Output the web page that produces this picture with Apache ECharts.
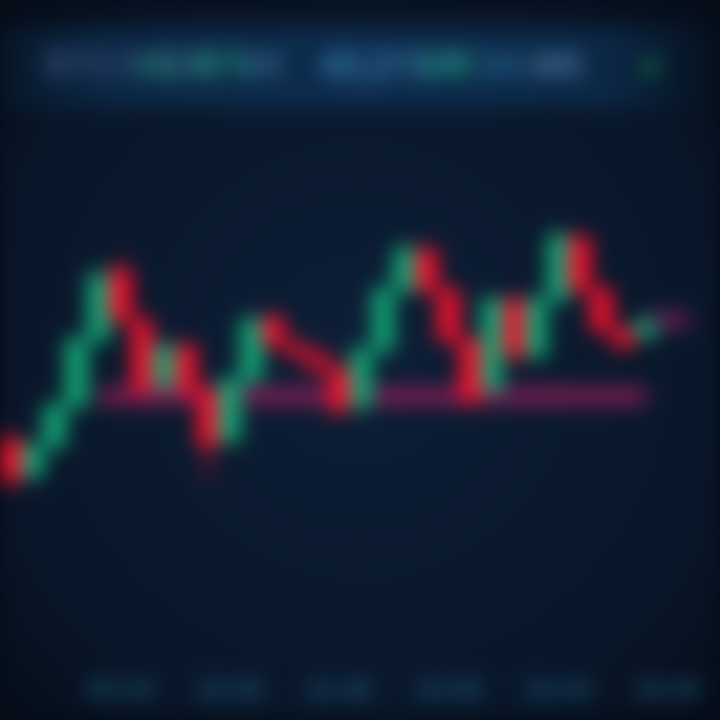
<!DOCTYPE html>
<html><head><meta charset="utf-8">
<script src="https://cdn.jsdelivr.net/npm/echarts@6/dist/echarts.min.js"></script>
<style>
html,body{margin:0;padding:0;background:#050c17;width:720px;height:720px;overflow:hidden}
#c{width:720px;height:720px;filter:blur(10px)}
</style></head><body><div id="c"></div>
<script>
// categories (time labels)
const times = ['08:00','08:15','08:30','08:45','09:00','09:15','09:30','09:45','10:00','10:15','10:30','10:45','11:00','11:15','11:30','11:45','12:00','12:15','12:30','12:45','13:00','13:15','13:30','13:45','14:00','14:15','14:30','14:45','15:00','15:15','15:30','15:45'];
// candles: [open, close, low, high]
const opens  = [120,102,117,137,170,205,180,147,167,145,120,150,181,168,163,156,137,165,195,215,195,170,145,190,162,190,221,195,175,172,null,null];
const closes = [100,117,137,170,202,180,145,167,145,117,150,180,168,163,156,135,165,195,215,195,170,140,190,162,190,222,195,175,167,179,null,null];
const lows   = [ 95,100,115,135,168,178,142,144,142,100,117,148,166,160,153,132,134,163,193,193,168,137,143,160,160,188,193,172,165,170,null,null];
const highs  = [125,119,139,172,208,212,182,169,169,147,152,182,184,170,165,158,167,197,220,217,197,172,192,192,192,225,223,197,177,181,null,null];
// support band level and right-side level line
const support = [null,null,null,null,142,142,142,142,142,142,142,142,142,142,142,142,142,142,142,142,142,142,142,142,142,142,142,142,142,142,null,null];
const levelLine = [null,null,null,null,null,null,null,null,null,null,null,null,null,null,null,null,null,null,null,null,null,null,null,null,null,null,null,null,null,179,180,180];
// header items
const headerTexts = ['BTC/USDT','+2.45%','1H','43,215.8','Vol','24.6K','MA','●'];

const candleData = opens.map((o,i)=> o==null ? '-' : [o, closes[i], lows[i], highs[i]]);

const chart = echarts.init(document.getElementById('c'));
const headerColors = ['#3a4f7a','#1a8a72','#3a6e92','#3a86b0','#1a8a72','#2a6a9a','#3e5c80','#157a3e'];
const headerX = [45,135,235,320,420,478,530,640];
const graphics = [
  {type:'rect', shape:{x:0,y:28,width:720,height:80},
   style:{fill:{type:'linear',x:0,y:0,x2:1,y2:0,colorStops:[{offset:0,color:'#07172a'},{offset:0.15,color:'#0b2744'},{offset:0.5,color:'#0d2c4e'},{offset:0.85,color:'#0b2744'},{offset:1,color:'#060f1d'}]}}, z:-1}
].concat(headerTexts.map((t,i)=>({
  type:'text', left: headerX[i], top: 50,
  style:{text:t, fill: headerColors[i], font:'bold 36px Roboto'}
})));

chart.setOption({
  backgroundColor:{type:'radial',x:0.5,y:0.5,r:0.75,colorStops:[{offset:0,color:'#0c1e36'},{offset:0.7,color:'#091629'},{offset:1,color:'#040a14'}]},
  animation:false,
  graphic: graphics,
  grid:{left:0,right:20,top:100,bottom:60},
  xAxis:{type:'category',data:times,boundaryGap:true,
    axisLine:{show:false},axisTick:{show:false},splitLine:{show:false},
    axisLabel:{interval:(i)=> i>0 && i%5===0, color:'#1d5878',fontSize:26,fontWeight:'bold',margin:18}},
  yAxis:{type:'value',min:10,max:290,show:false,splitLine:{show:false}},
  series:[
    {name:'support',type:'line',data:support,symbol:'none',z:1,
      lineStyle:{color:'#a01f5e',width:18,opacity:0.75}},
    {name:'level',type:'line',data:levelLine,symbol:'none',z:1,
      lineStyle:{color:'#6e1d55',width:18,opacity:0.85}},
    {name:'price',type:'candlestick',data:candleData,barWidth:20,z:3,
      itemStyle:{color:'#12a676',color0:'#f0102c',borderColor:'#12a676',borderColor0:'#f0102c',borderWidth:3}}
  ]
});
</script></body></html>
